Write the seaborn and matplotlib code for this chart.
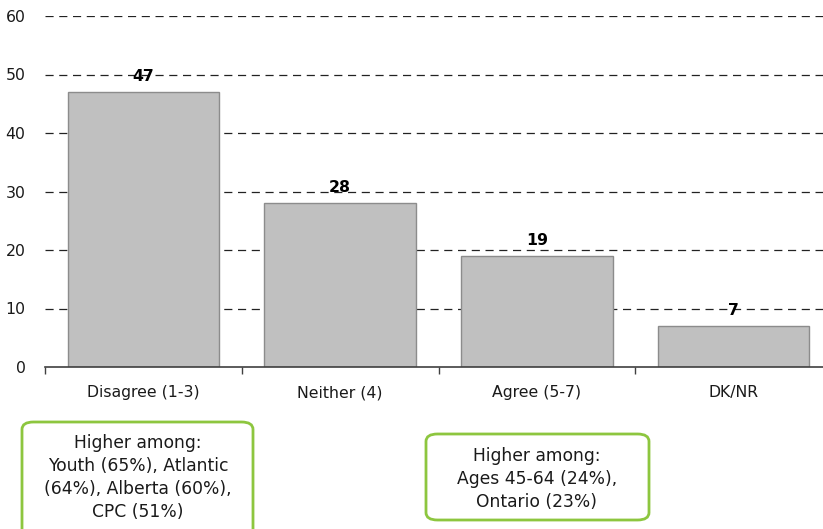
import matplotlib
matplotlib.use("Agg")
import matplotlib.pyplot as plt
import seaborn as sns
import pandas as pd
from matplotlib.patches import FancyBboxPatch

# data
categories = ["Disagree (1-3)", "Neither (4)", "Agree (5-7)", "DK/NR"]
values = [47, 28, 19, 7]
yticks = [0, 10, 20, 30, 40, 50, 60]
note_left = "Higher among:\nYouth (65%), Atlantic\n(64%), Alberta (60%),\nCPC (51%)"
note_right = "Higher among:\nAges 45-64 (24%),\nOntario (23%)"

df = pd.DataFrame({"cat": categories, "val": values})

sns.set_style("white")
plt.rcParams["font.family"] = ["DejaVu Sans"]

W, H = 823, 529
fig = plt.figure(figsize=(W / 100, H / 100), dpi=100)
# axes in pixel terms: left 45, right ~832 (clipped), y=0 at 367, y=60 at 16
ax = fig.add_axes([45 / W, (H - 367) / H, (832 - 45) / W, (367 - 16) / H])

sns.barplot(data=df, x="cat", y="val", color="#C0C0C0", saturation=1,
            edgecolor="#8C8C8C", linewidth=1, width=0.77, ax=ax, zorder=2)

ax.set_ylim(0, 60)
ax.set_xlim(-0.5, len(categories) - 0.5)
ax.set_yticks(yticks)
ax.set_xlabel("")
ax.set_ylabel("")
for y in yticks[1:]:
    ax.axhline(y, color="#222222", lw=0.9, ls=(0, (6.5, 4.5)), zorder=1)

for s in ["top", "right", "left"]:
    ax.spines[s].set_visible(False)
ax.spines["bottom"].set_color("#404040")
ax.spines["bottom"].set_linewidth(1.2)
ax.spines["bottom"].set_zorder(3)

# category ticks at boundaries
ax.set_xticks([i + 0.5 for i in range(-1, len(categories))], minor=True)
ax.tick_params(axis="x", which="minor", bottom=True, length=5, width=1,
               color="#404040", direction="out")
ax.tick_params(axis="x", which="major", length=0, pad=13, labelsize=11.3, labelcolor="#1a1a1a")
ax.tick_params(axis="y", length=0, pad=14, labelsize=11.3, labelcolor="#1a1a1a")

for i, v in enumerate(values):
    ax.text(i, v + 1.4, str(v), ha="center", va="bottom", fontsize=11.3,
            fontweight="bold", color="#000000", zorder=4)

def note_box(x0, y0, x1, y1, text, cx, ty):
    box = FancyBboxPatch((x0 / W, 1 - y1 / H), (x1 - x0) / W, (y1 - y0) / H,
                         boxstyle="round,pad=0,rounding_size=0.014",
                         transform=fig.transFigure, facecolor="white",
                         edgecolor="#8DC63F", linewidth=2, clip_on=False)
    fig.patches.append(box)
    fig.text(cx / W, 1 - ty / H, text, ha="center", va="top", fontsize=12.3,
             color="#1a1a1a", linespacing=1.36)

note_box(22, 422, 253, 540, note_left, 138, 434)
note_box(426, 434, 649, 520, note_right, 537, 447)

fig.savefig("out.png", dpi=100)
